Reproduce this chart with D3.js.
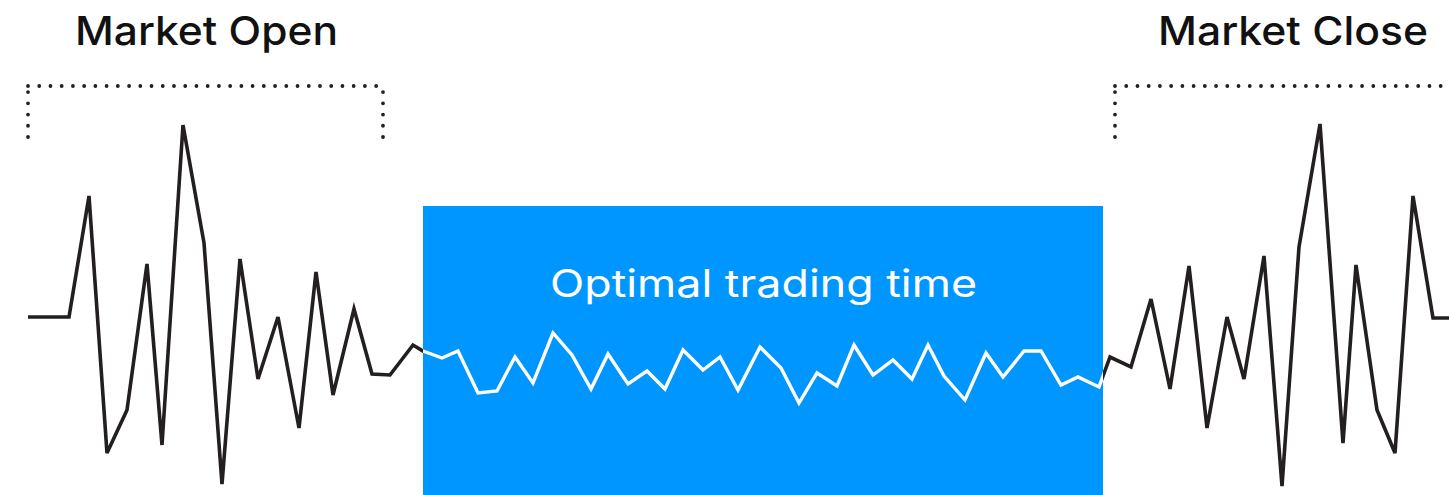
<!DOCTYPE html>
<html><head><meta charset="utf-8">
<script src="https://cdn.jsdelivr.net/npm/d3@7"></script>
<style>html,body{margin:0;padding:0;background:#fff;}svg{display:block;}</style>
</head><body>
<svg id="c" width="1449" height="495"></svg>
<script>
// time index (arbitrary units) and price deviation
const times = [0,4.1,6.1,7.9,9.9,11.9,13.4,15.5,17.6,19.4,21.2,23.0,25.0,27.1,28.8,30.5,32.6,34.4,36.2,38.5,
  39.5,41.4,43.0,45.0,46.9,48.7,50.5,52.5,54.4,56.3,58.0,60.0,61.9,63.7,65.5,67.5,69.2,71.0,73.2,75.3,77.1,78.9,80.9,82.6,84.5,86.5,88.4,90.0,91.6,93.7,95.8,97.5,99.6,101.3,103.3,105.0,107.1,
  108.2,110.3,112.3,114.2,116.1,117.9,119.9,121.6,123.6,125.4,127.1,129.2,131.5,132.8,134.9,136.7,138.5,140.5,143.5];
const prices = [0,0,12.1,-13.6,-9.3,5.3,-12.8,19.2,7.4,-16.7,5.8,-6.2,0,-11.1,4.5,-7.8,0.8,-5.7,-5.8,-2.8,
  -3.4,-4.1,-3.4,-7.6,-7.4,-4.0,-6.6,-1.6,-3.8,-7.2,-3.7,-6.7,-5.4,-7.2,-3.3,-5.3,-4.0,-7.3,-3.0,-5.1,-8.6,-5.6,-6.9,-2.8,-5.8,-4.3,-6.2,-2.8,-5.9,-8.3,-3.6,-6.0,-3.4,-3.4,-6.8,-6.0,-7.0,
  -4.0,-5.0,1.8,-7.2,5.1,-11.1,0,-6.2,6.1,-16.9,7.0,19.3,-12.6,5.2,-9.3,-13.6,12.1,-0.1,-0.1];
const optimalWindow = [39.5, 107.5];   // start, end of optimal window
const optimalTop = 11.1;
const labels = ["Market Open", "Market Close", "Optimal trading time"];
const openBracket = [0, 35.5];
const closeBracket = [108.7, 146];
const bracketTop = 23.1, bracketBottom = 18.0;

const svg = d3.select("#c");
const x = d3.scaleLinear().domain([0, 142.1]).range([28, 1449]);
const y = d3.scaleLinear().domain([-20, 20]).range([517, 117]);
const pts = times.map((t, i) => [t, prices[i]]);
const line = d3.line().x(d => x(d[0])).y(d => y(d[1]));
const font = "Inter, 'Liberation Sans', Arial, sans-serif";

// black line
svg.append("path").attr("d", line(pts)).attr("fill", "none")
  .attr("stroke", "#231f20").attr("stroke-width", 3.6).attr("stroke-linejoin", "miter");

// blue window
svg.append("rect").attr("x", x(optimalWindow[0])).attr("y", y(optimalTop))
  .attr("width", x(optimalWindow[1]) - x(optimalWindow[0])).attr("height", 495 - y(optimalTop))
  .attr("fill", "#0096ff");

svg.append("clipPath").attr("id", "win").append("rect")
  .attr("x", x(optimalWindow[0])).attr("y", 0)
  .attr("width", x(optimalWindow[1]) - x(optimalWindow[0])).attr("height", 495);
svg.append("path").attr("d", line(pts)).attr("fill", "none").attr("clip-path", "url(#win)")
  .attr("stroke", "#fff").attr("stroke-width", 3.4);

// brackets
function bracket(b) {
  const g = svg.append("g").attr("stroke", "#231f20").attr("stroke-width", 3.8)
    .attr("stroke-linecap", "round").attr("stroke-dasharray", "0 11.23").attr("fill", "none");
  g.append("line").attr("x1", x(b[0])).attr("x2", x(b[1])).attr("y1", y(bracketTop)).attr("y2", y(bracketTop));
  g.append("line").attr("x1", x(b[0])).attr("x2", x(b[0])).attr("y1", y(bracketBottom)).attr("y2", y(bracketTop) + 5);
  g.append("line").attr("x1", x(b[1])).attr("x2", x(b[1])).attr("y1", y(bracketBottom)).attr("y2", y(bracketTop) + 5);
}
bracket(openBracket);
bracket(closeBracket);

svg.append("text").attr("x", 75).attr("y", 45).attr("font-family", font).attr("font-size", 40).attr("font-weight", 500)
  .attr("fill", "#111").attr("textLength", 263).attr("lengthAdjust", "spacingAndGlyphs").text(labels[0]);
svg.append("text").attr("x", 1158).attr("y", 45).attr("font-family", font).attr("font-size", 40).attr("font-weight", 500)
  .attr("fill", "#111").attr("textLength", 270).attr("lengthAdjust", "spacingAndGlyphs").text(labels[1]);
svg.append("text").attr("x", 550).attr("y", 297).attr("font-family", font).attr("font-size", 38).attr("font-weight", 400)
  .attr("fill", "#fff").attr("textLength", 427).attr("lengthAdjust", "spacingAndGlyphs").text(labels[2]);
</script>
</body></html>
